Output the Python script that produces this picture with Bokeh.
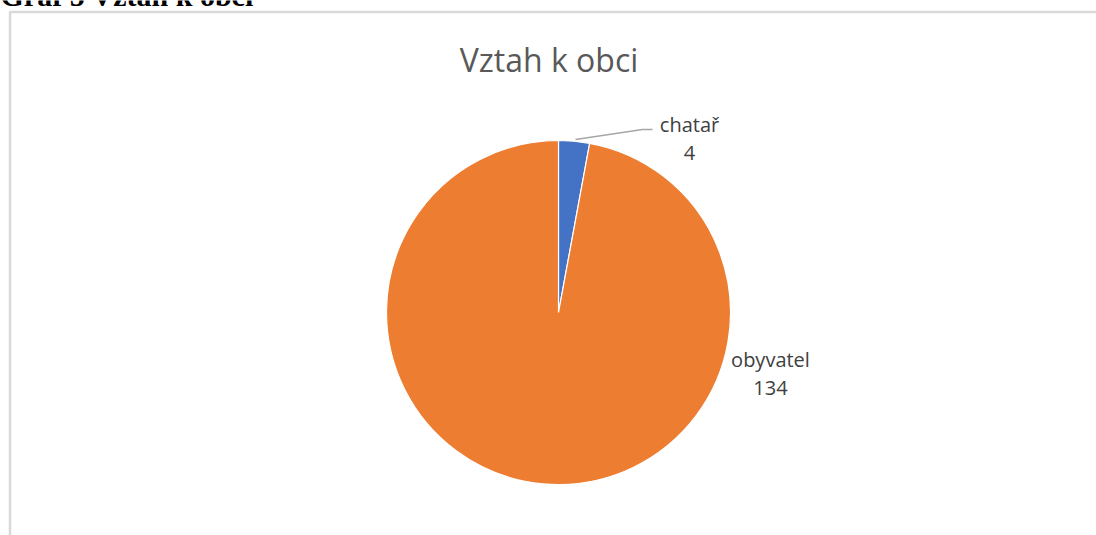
import numpy as np
from bokeh.plotting import figure
from bokeh.models import Range1d, ColumnDataSource
from bokeh.core.properties import value
from bokeh.embed import file_html
from bokeh.resources import INLINE

# ---- data ----
categories = ["chatař", "obyvatel"]
counts = [4, 134]
colors = ["#4472C4", "#ED7D31"]
title_text = "Vztah k obci"
caption_text = "Graf 5 Vztah k obci"

# ---- layout ----
W, H = 1096, 535
cx, cy, R = 558, 223, 172
FONT = "Open Sans"

p = figure(width=W, height=H, output_backend="svg", toolbar_location=None,
           x_range=Range1d(0, W), y_range=Range1d(0, H),
           min_border=0, outline_line_color=None)
p.axis.visible = False
p.grid.visible = False
p.background_fill_color = "white"
p.border_fill_color = "white"

# document caption (cut off at the top, as in the source)
p.text(x=[0], y=[540], text=[caption_text], text_align="left",
       text_baseline="alphabetic", text_font=value("Liberation Serif"),
       text_font_style="bold", text_font_size="30px", text_color="#000000")

# chart border (left + top edges visible)
p.line([9.5, 9.5, W + 20], [-20, 523.5, 523.5], line_color="#D9D9D9", line_width=2.5)

# pie
vals = np.array(counts, dtype=float)
frac = vals / vals.sum()
cum = np.concatenate([[0], np.cumsum(frac)])
start = np.pi / 2 - cum[:-1] * 2 * np.pi
end = np.pi / 2 - cum[1:] * 2 * np.pi
src = ColumnDataSource(dict(start=start, end=end, color=colors, cat=categories))
p.wedge(x=cx, y=cy, radius=R, start_angle="start", end_angle="end",
        direction="clock", fill_color="color", line_color="white",
        line_width=1.2, source=src)

# leader line for small slice
p.line([575, 642, 652], [396, 406, 406], line_color="#A6A6A6", line_width=1.5)

# data labels (name + value)
label_pos = [(689, 411, 383), (770, 176, 148)]
for (lx, ny, vy), name, v in zip(label_pos, categories, counts):
    p.text(x=[lx], y=[ny], text=[name], text_align="center",
           text_baseline="alphabetic", text_font=value(FONT),
           text_font_size="20px", text_color="#404040")
    p.text(x=[lx], y=[vy], text=[str(v)], text_align="center",
           text_baseline="alphabetic", text_font=value(FONT),
           text_font_size="20px", text_color="#404040")

# title
p.text(x=[548.5], y=[476], text=[title_text], text_align="center",
       text_baseline="alphabetic", text_font=value(FONT),
       text_font_size="32px", text_color="#595959")

open("out.html", "w").write(file_html(p, INLINE))
